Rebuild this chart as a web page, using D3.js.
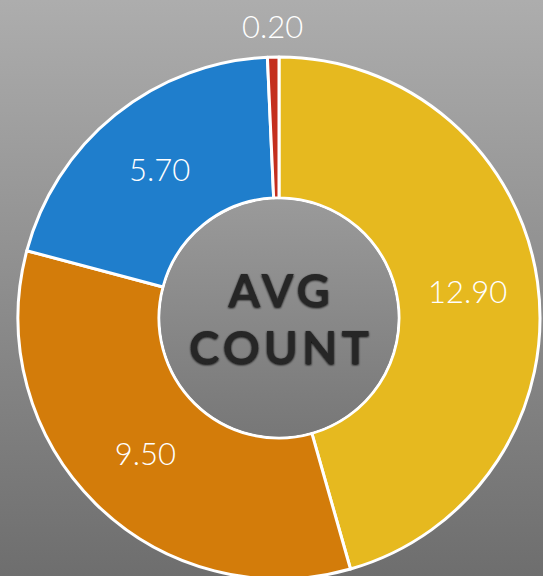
<!DOCTYPE html>
<html lang="en">
    <head>
        <title>Avg Count Donut</title>
        <script src="https://cdnjs.cloudflare.com/ajax/libs/d3/7.8.5/d3.min.js"></script>
        <style>
            html, body { margin: 0; padding: 0; }
            body { width: 543px; height: 576px; overflow: hidden; }
        </style>
    </head>
    <body>
        <div class="graph"></div>
        <script>
    // slices go clockwise from 12 o'clock
    const categories = ['A', 'B', 'C', 'D'];
    const values = [12.9, 9.5, 5.7, 0.2];
    const centreTitle = ['AVG', 'COUNT'];

    const w = 543;
    const h = 576;
    const cx = 279;
    const cy = 318;
    const outerR = 261;
    const innerR = 120;

    const colour = d3.scaleOrdinal()
                     .domain(categories)
                     .range(['#e6b91f', '#d37c0a', '#1f7ecc', '#c42f1e']);

    const dataset = categories.map((c, i) => ({cat: c, value: values[i]}));

    const svg = d3.select('.graph')
                  .append('svg')
                  .attr('width', w)
                  .attr('height', h);

    const defs = svg.append('defs');
    const bg = defs.append('linearGradient')
                   .attr('id', 'bg')
                   .attr('x1', 0).attr('y1', 0).attr('x2', 0).attr('y2', 1);
    bg.append('stop').attr('offset', '0%').attr('stop-color', '#adadad');
    bg.append('stop').attr('offset', '100%').attr('stop-color', '#6e6e6e');

    const hole = defs.append('linearGradient')
                     .attr('id', 'hole')
                     .attr('x1', 0).attr('y1', 0).attr('x2', 0).attr('y2', 1);
    hole.append('stop').attr('offset', '0%').attr('stop-color', '#9a9a9a');
    hole.append('stop').attr('offset', '100%').attr('stop-color', '#777777');

    const shadow = defs.append('filter').attr('id', 'soft')
                       .attr('x', '-10%').attr('y', '-10%').attr('width', '120%').attr('height', '130%');
    shadow.append('feGaussianBlur').attr('in', 'SourceAlpha').attr('stdDeviation', 1.2).attr('result', 'b');
    shadow.append('feOffset').attr('in', 'b').attr('dx', 0).attr('dy', 1).attr('result', 'o');
    const merge = shadow.append('feMerge');
    merge.append('feMergeNode').attr('in', 'o');
    merge.append('feMergeNode').attr('in', 'SourceGraphic');

    svg.append('rect')
       .attr('width', w)
       .attr('height', h)
       .attr('fill', 'url(#bg)');

    const pie = d3.pie()
                  .sort(null)
                  .value(d => d.value);

    const arc = d3.arc()
                  .innerRadius(innerR)
                  .outerRadius(outerR);

    const labelArc = d3.arc()
                       .innerRadius((innerR + outerR) / 2)
                       .outerRadius((innerR + outerR) / 2);

    // the tiny slice gets its label pushed outside the ring
    const outsideArc = d3.arc()
                         .innerRadius(outerR + 30)
                         .outerRadius(outerR + 30);

    const g = svg.append('g')
                 .attr('transform', 'translate(' + cx + ',' + cy + ')');

    const arcs = pie(dataset);

    g.selectAll('.slice')
     .data(arcs)
     .enter()
     .append('path')
     .attr('class', 'slice')
     .attr('d', arc)
     .attr('fill', d => colour(d.data.cat))
     .attr('stroke', '#ffffff')
     .attr('stroke-width', 3)
     .attr('stroke-linejoin', 'round');

    g.append('circle')
     .attr('r', innerR - 1.5)
     .attr('fill', 'url(#hole)');

    const fmt = d3.format('.2f');

    g.selectAll('.val')
     .data(arcs)
     .enter()
     .append('text')
     .attr('class', 'val')
     .attr('transform', d => {
        const small = (d.endAngle - d.startAngle) < 0.1;
        const p = small ? outsideArc.centroid(d) : labelArc.centroid(d);
        return 'translate(' + p[0] + ',' + p[1] + ')';
     })
     .attr('text-anchor', 'middle')
     .attr('dy', '0.36em')
     .attr('fill', '#ffffff')
     .style('font-family', 'Lato, "Open Sans", sans-serif')
     .style('font-weight', 300)
     .style('font-size', '31px')
     .text(d => fmt(d.data.value));

    g.selectAll('.title')
     .data(centreTitle)
     .enter()
     .append('text')
     .attr('class', 'title')
     .attr('x', 2)
     .attr('y', (d, i) => -11 + i * 57)
     .attr('text-anchor', 'middle')
     .attr('fill', '#262626')
     .attr('filter', 'url(#soft)')
     .style('font-family', 'Lato, "DejaVu Sans", sans-serif')
     .style('font-weight', 700)
     .style('font-size', '46px')
     .style('letter-spacing', '4px')
     .text(d => d);
        </script>
    </body>
</html>
